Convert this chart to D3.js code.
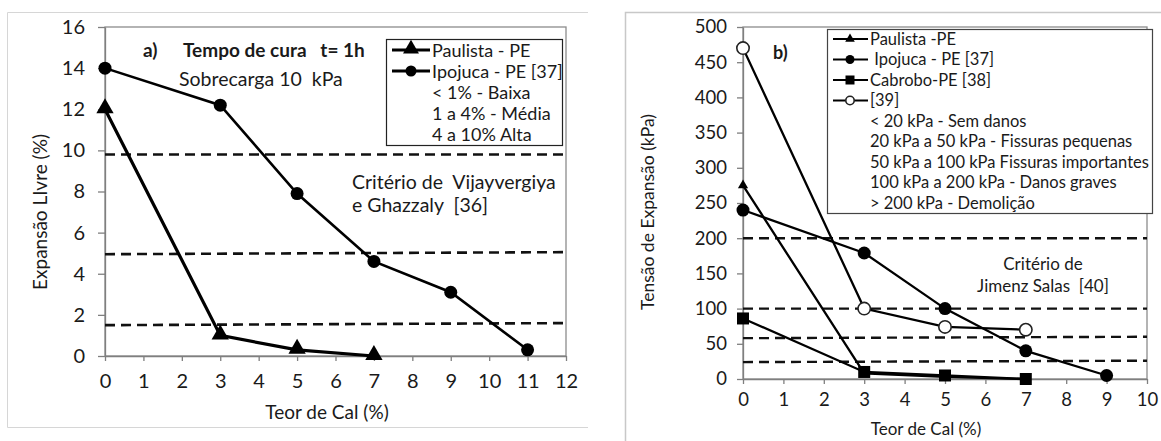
<!DOCTYPE html>
<html>
<head>
<meta charset="utf-8">
<script src="https://cdn.jsdelivr.net/npm/d3@7"></script>
<style>
  body { margin: 0; background: #fff; }
  svg text { font-family: Lato, "Open Sans", sans-serif; fill: #1a1a1a; }
</style>
</head>
<body>
<div id="chart"></div>
<script>
// ---- chart a) : expansao livre ----
var xTicksA = [0,1,2,3,4,5,6,7,8,9,10,11,12];
var yTicksA = [0,2,4,6,8,10,12,14,16];
var teorPaulistaA = [0,3,5,7];
var expPaulistaA = [12,1.0,0.3,0];
var teorIpojucaA = [0,3,5,7,9,11];
var expIpojucaA = [14,12.2,7.9,4.6,3.1,0.3];
var limitsA = [[9.8,9.8],[4.95,5.05],[1.5,1.6]];   // left / right end of each dashed line
var legendA = ["Paulista - PE","Ipojuca - PE [37]","< 1% - Baixa","1 a 4% - Média","4 a 10% Alta"];

// ---- chart b) : tensao de expansao ----
var xTicksB = [0,1,2,3,4,5,6,7,8,9,10];
var yTicksB = [0,50,100,150,200,250,300,350,400,450,500];
var teorB = [0,3,5,7];
var tensPaulistaB = [275,8,3,0];
var teorIpojucaB = [0,3,5,7,9];
var tensIpojucaB = [240,179,100,40,5];
var tensCabroboB = [86,10,5,0];
var tens39B = [470,100,74,70];
var limitsB = [[200,200],[100,100],[58,60],[24,26]];
var legendB = ["Paulista -PE"," Ipojuca - PE [37]","Cabrobo-PE [38]","[39]",
   "< 20 kPa - Sem danos","20 kPa a 50 kPa - Fissuras pequenas",
   "50 kPa a 100 kPa Fissuras importantes","100 kPa a 200 kPa - Danos graves",
   "> 200 kPa - Demolição"];

var svg = d3.select("#chart").append("svg")
   .attr("width", 1161)
   .attr("height", 441);

// panel borders
svg.append("path")
   .attr("d", "M588,12.5 H7.5 V427.5 H588")
   .attr("fill", "none").attr("stroke", "#d6d6d6");
svg.append("path")
   .attr("d", "M1161,12.5 H625.5 V441")
   .attr("fill", "none").attr("stroke", "#c8c8c8").attr("stroke-width", 1.5);

function pts(xs, ys){
   return xs.map(function(d,i){ return [d, ys[i]]; });
}

function drawMarker(g, type, size, x, y){
   if (type == "tri"){
      g.append("path")
         .attr("d", d3.symbol().type(d3.symbolTriangle).size(size)())
         .attr("transform", "translate(" + x + "," + y + ")")
         .attr("fill", "#000");
   } else if (type == "circ"){
      g.append("circle").attr("cx", x).attr("cy", y).attr("r", size).attr("fill", "#000");
   } else if (type == "sq"){
      g.append("rect").attr("x", x - size/2).attr("y", y - size/2)
         .attr("width", size).attr("height", size).attr("fill", "#000");
   } else if (type == "open"){
      g.append("circle").attr("cx", x).attr("cy", y).attr("r", size)
         .attr("fill", "#fff").attr("stroke", "#222").attr("stroke-width", 1.6);
   }
}

function styleAxis(ax, fs){
   ax.select(".domain").attr("stroke", "#7f7f7f").attr("stroke-width", 1.3);
   ax.selectAll(".tick line").attr("stroke", "#7f7f7f").attr("stroke-width", 1.3);
   ax.selectAll(".tick text").style("font-size", fs).attr("fill", "#1a1a1a");
}

// ================= chart a =================
var xA = d3.scaleLinear().domain([0,12]).range([105,566]);
var yA = d3.scaleLinear().domain([0,16]).range([356,27]);
var gA = svg.append("g");

gA.append("rect")
   .attr("x", xA(0)).attr("y", yA(16))
   .attr("width", xA(12) - xA(0)).attr("height", yA(0) - yA(16))
   .attr("fill", "none").attr("stroke", "#8c8c8c").attr("stroke-width", 1.3);

var axA = gA.append("g").attr("transform", "translate(" + xA(0) + ",0)")
   .call(d3.axisLeft(yA).tickValues(yTicksA).tickSizeInner(7).tickSizeOuter(0).tickPadding(13));
styleAxis(axA, "20px");
var axXA = gA.append("g").attr("transform", "translate(0," + yA(0) + ")")
   .call(d3.axisBottom(xA).tickValues(xTicksA).tickSizeInner(5).tickSizeOuter(0).tickPadding(13));
styleAxis(axXA, "20px");

limitsA.forEach(function(l){
   gA.append("line")
      .attr("x1", xA(0)).attr("x2", xA(12))
      .attr("y1", yA(l[0])).attr("y2", yA(l[1]))
      .attr("stroke", "#111").attr("stroke-width", 2.6)
      .attr("stroke-dasharray", "10,6");
});

var lineA = d3.line().x(function(d){ return xA(d[0]); }).y(function(d){ return yA(d[1]); });
gA.append("path").datum(pts(teorIpojucaA, expIpojucaA))
   .attr("d", lineA).attr("fill", "none").attr("stroke", "#000").attr("stroke-width", 2.6);
gA.append("path").datum(pts(teorPaulistaA, expPaulistaA))
   .attr("d", lineA).attr("fill", "none").attr("stroke", "#000").attr("stroke-width", 3.2);
pts(teorIpojucaA, expIpojucaA).forEach(function(d){ drawMarker(gA, "circ", 6.5, xA(d[0]), yA(d[1])); });
pts(teorPaulistaA, expPaulistaA).forEach(function(d){ drawMarker(gA, "tri", 130, xA(d[0]), yA(d[1]) - 1); });

gA.append("text").attr("x", 143).attr("y", 57).style("font-size", "19px").style("font-weight", "700").text("a)");
gA.append("text").attr("x", 183).attr("y", 57).style("font-size", "19px").style("font-weight", "700")
   .attr("xml:space", "preserve").text("Tempo de cura   t= 1h");
gA.append("text").attr("x", 179).attr("y", 86).style("font-size", "19.5px")
   .attr("xml:space", "preserve").text("Sobrecarga 10  kPa");
gA.append("text").attr("x", 352).attr("y", 189).style("font-size", "19.5px")
   .attr("xml:space", "preserve").text("Critério de  Vijayvergiya");
gA.append("text").attr("x", 352).attr("y", 212).style("font-size", "19.5px")
   .attr("xml:space", "preserve").text("e Ghazzaly  [36]");

// legend a
var legA = gA.append("g");
legA.append("rect").attr("x", 386.5).attr("y", 39.5).attr("width", 176).attr("height", 106)
   .attr("fill", "#fff").attr("stroke", "#222").attr("stroke-width", 1.2);
legendA.forEach(function(t, i){
   var cy = 50 + i * 21;
   if (i < 2){
      legA.append("line").attr("x1", 392).attr("x2", 430).attr("y1", cy).attr("y2", cy)
         .attr("stroke", "#000").attr("stroke-width", 3);
      if (i == 0) drawMarker(legA, "tri", 110, 411, cy - 1);
      else drawMarker(legA, "circ", 5.5, 411, cy);
   }
   legA.append("text").attr("x", 432).attr("y", cy + 6.5).style("font-size", "18px").text(t);
});

gA.append("text")
   .attr("transform", "translate(47,212) rotate(-90)")
   .attr("text-anchor", "middle").style("font-size", "19px")
   .text("Expansão LIvre (%)");
gA.append("text").attr("x", 327).attr("y", 419)
   .attr("text-anchor", "middle").style("font-size", "19px")
   .text("Teor de Cal (%)");

// ================= chart b =================
var xB = d3.scaleLinear().domain([0,10]).range([743,1147]);
var yB = d3.scaleLinear().domain([0,500]).range([379,27]);
var gB = svg.append("g");

gB.append("rect")
   .attr("x", xB(0)).attr("y", yB(500))
   .attr("width", xB(10) - xB(0)).attr("height", yB(0) - yB(500))
   .attr("fill", "none").attr("stroke", "#8c8c8c").attr("stroke-width", 1.3);

var axB = gB.append("g").attr("transform", "translate(" + xB(0) + ",0)")
   .call(d3.axisLeft(yB).tickValues(yTicksB).tickSizeInner(6).tickSizeOuter(0).tickPadding(10));
styleAxis(axB, "18.5px");
var axXB = gB.append("g").attr("transform", "translate(0," + yB(0) + ")")
   .call(d3.axisBottom(xB).tickValues(xTicksB).tickSizeInner(5).tickSizeOuter(0).tickPadding(9));
styleAxis(axXB, "18.5px");

limitsB.forEach(function(l){
   gB.append("line")
      .attr("x1", xB(0)).attr("x2", xB(10))
      .attr("y1", yB(l[0])).attr("y2", yB(l[1]))
      .attr("stroke", "#111").attr("stroke-width", 2.4)
      .attr("stroke-dasharray", "10,6");
});

var lineB = d3.line().x(function(d){ return xB(d[0]); }).y(function(d){ return yB(d[1]); });
[[teorB, tensPaulistaB], [teorIpojucaB, tensIpojucaB], [teorB, tensCabroboB], [teorB, tens39B]].forEach(function(s){
   gB.append("path").datum(pts(s[0], s[1]))
      .attr("d", lineB).attr("fill", "none").attr("stroke", "#000").attr("stroke-width", 2.3);
});
pts(teorB, tensPaulistaB).forEach(function(d){ drawMarker(gB, "tri", 45, xB(d[0]), yB(d[1])); });
pts(teorIpojucaB, tensIpojucaB).forEach(function(d){ drawMarker(gB, "circ", 6.5, xB(d[0]), yB(d[1])); });
pts(teorB, tensCabroboB).forEach(function(d){ drawMarker(gB, "sq", 12, xB(d[0]), yB(d[1])); });
pts(teorB, tens39B).forEach(function(d){ drawMarker(gB, "open", 6.2, xB(d[0]), yB(d[1])); });

gB.append("text").attr("x", 773).attr("y", 59).style("font-size", "18px").style("font-weight", "700").text("b)");
gB.append("text").attr("x", 1043).attr("y", 270).attr("text-anchor", "middle")
   .style("font-size", "17px").text("Critério de");
gB.append("text").attr("x", 1043).attr("y", 292).attr("text-anchor", "middle")
   .style("font-size", "17px").attr("xml:space", "preserve").text("Jimenz Salas  [40]");

// legend b
var legB = gB.append("g");
legB.append("rect").attr("x", 827.5).attr("y", 29.5).attr("width", 325).attr("height", 184)
   .attr("fill", "#fff").attr("stroke", "#444").attr("stroke-width", 1.2);
var markB = ["tri", "circ", "sq", "open"];
legendB.forEach(function(t, i){
   var cy = 39 + i * 20.5;
   if (i < 4){
      legB.append("line").attr("x1", 833).attr("x2", 868).attr("y1", cy).attr("y2", cy)
         .attr("stroke", "#000").attr("stroke-width", 2.2);
      var sz = [40, 4.5, 9, 4.2][i];
      drawMarker(legB, markB[i], sz, 850, cy);
   }
   legB.append("text").attr("x", 870).attr("y", cy + 5.5).style("font-size", "16.5px")
      .attr("xml:space", "preserve").text(t);
});

gB.append("text")
   .attr("transform", "translate(654,212) rotate(-90)")
   .attr("text-anchor", "middle").style("font-size", "17.5px")
   .text("Tensão de Expansão (kPa)");
gB.append("text").attr("x", 926).attr("y", 435)
   .attr("text-anchor", "middle").style("font-size", "17px")
   .text("Teor de Cal (%)");
</script>
</body>
</html>
